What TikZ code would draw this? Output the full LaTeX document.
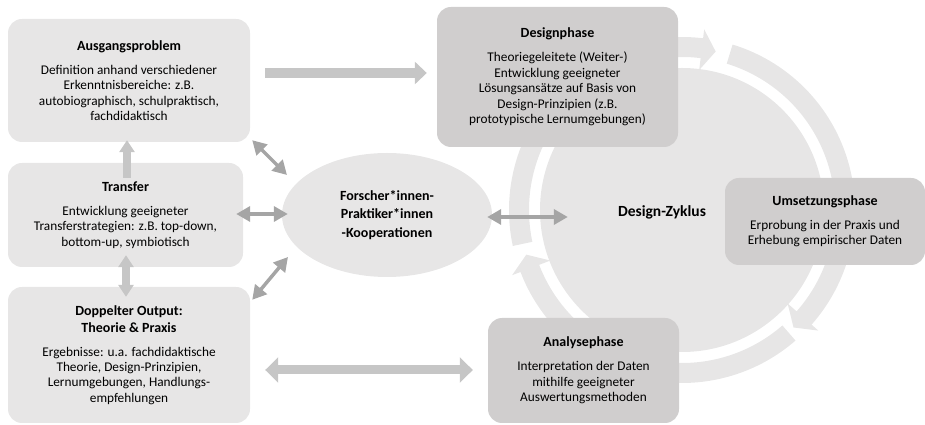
\documentclass[tikz,border=0pt]{standalone}
\usepackage{fontspec}
\setmainfont{Carlito}
\usetikzlibrary{arrows.meta,shapes.geometric}
\definecolor{boxlight}{HTML}{E7E6E6}
\definecolor{boxdark}{HTML}{D0CECE}
\definecolor{ringcol}{HTML}{E7E6E6}
\definecolor{thinarrow}{HTML}{A5A5A5}
\definecolor{blockarrow}{HTML}{C6C6C6}
\newcommand\ttl[1]{{\fontsize{14}{16.7}\selectfont\bfseries #1}}
\newcommand\ringarrow[2]{%
  \fill[ringcol, shift={(682,215)}] (#1:173) arc[start angle=#1, end angle={#2+5}, radius=173]
    -- ({#2+5}:182) -- (#2:162) -- ({#2+5}:141) -- ({#2+5}:153)
    arc[start angle={#2+5}, end angle=#1, radius=153] -- cycle;}
\begin{document}
\begin{tikzpicture}[x=1pt,y=1pt,
  lightbox/.style={fill=boxlight, rounded corners=14pt, align=center, inner sep=0pt,
    font=\fontsize{13.3}{15.4}\selectfont},
  darkbox/.style={fill=boxdark, rounded corners=14pt, align=center, inner sep=0pt,
    font=\fontsize{13.3}{15.4}\selectfont},
  blockarr/.style={draw=blockarrow, line width=9pt},
  thinarr/.style={draw=thinarrow, line width=3.5pt,
    {Triangle[width=15pt,length=14pt]}-{Triangle[width=15pt,length=14pt]}},
]
\useasboundingbox (0,0) rectangle (925,425);

% design cycle background
\node[circle, fill=ringcol, minimum size=284pt, inner sep=0pt] (Z) at (682,215) {};
\ringarrow{192}{78}
\ringarrow{73}{-46.5}
\ringarrow{-49}{-164}
\node[font=\fontsize{15.5}{18}\selectfont\bfseries] (ZT) at (662,213) {Design-Zyklus};

% left boxes
\node[lightbox, minimum width=242pt, minimum height=123pt] (A) at (129,344.5)
  {\ttl{Ausgangsproblem}\\[8.6pt]Definition anhand verschiedener\\Erkenntnisbereiche: z.B.\\autobiographisch, schulpraktisch,\\fachdidaktisch};
\node[lightbox, minimum width=235pt, minimum height=104pt] (T) at (125.5,210)
  {\ttl{Transfer}\\[8.6pt]Entwicklung geeigneter\\Transferstrategien: z.B. top-down,\\bottom-up, symbiotisch};
\node[lightbox, minimum width=242pt, minimum height=136pt] (D) at (129,70)
  {\ttl{Doppelter Output:}\\[1.3pt]\ttl{Theorie \& Praxis}\\[8.6pt]Ergebnisse: u.a. fachdidaktische\\Theorie, Design-Prinzipien,\\Lernumgebungen, Handlungs-\\empfehlungen};

% ellipse
\node[ellipse, fill=boxlight, minimum width=210pt, minimum height=124pt, inner sep=0pt,
  align=center, font=\fontsize{14}{18.3}\selectfont\bfseries] (E) at (387,210)
  {Forscher*innen-\\Praktiker*innen\\-Kooperationen};

% phase boxes
\node[darkbox, minimum width=241pt, minimum height=140pt] (DP) at (557.5,348)
  {\ttl{Designphase}\\[8.6pt]Theoriegeleitete (Weiter-)\\Entwicklung geeigneter\\Lösungsansätze auf Basis von\\Design-Prinzipien (z.B.\\prototypische Lernumgebungen)};
\node[darkbox, minimum width=200pt, minimum height=87pt] (U) at (825,203.5)
  {\ttl{Umsetzungsphase}\\[8.6pt]Erprobung in der Praxis und\\Erhebung empirischer Daten};
\node[darkbox, minimum width=191pt, minimum height=105pt] (AN) at (583.5,54.5)
  {\ttl{Analysephase}\\[8.6pt]Interpretation der Daten\\mithilfe geeigneter\\Auswertungsmethoden};

% block arrows
\draw[blockarr, line width=10pt, -{Triangle[width=22pt,length=12pt]}]
  ([shift={(15,7.5)}]A.east) -- ([shift={(-10,4)}]DP.west);
\draw[blockarr, line width=8pt, -{Triangle[width=15pt,length=12pt]}]
  ([shift={(1.5,-15)}]T.north) -- ([shift={(-2,2)}]A.south);
\draw[blockarr, line width=8pt, {Triangle[width=15pt,length=12pt]}-{Triangle[width=15pt,length=12pt]}]
  ([shift={(0.5,12)}]T.south) -- ([shift={(-3,-10)}]D.north);
\draw[blockarr, line width=9pt, {Triangle[width=25pt,length=13pt]}-{Triangle[width=25pt,length=13pt]}]
  ([shift={(15,-15)}]D.east) -- ([shift={(-15,0.5)}]AN.west);

% thin arrows
\draw[thinarr] ([shift={(2,2)}]A.south east) -- ([shift={(-100,40)}]E.center);
\draw[thinarr] ([shift={(-7,1)}]T.east) -- ([shift={(6,1)}]E.west);
\draw[thinarr] ([shift={(2,-13)}]D.north east) -- ([shift={(-99,-42)}]E.center);
\draw[thinarr] ([shift={(-5,-2)}]E.east) -- ([shift={(28,-7)}]Z.west);
\end{tikzpicture}
\end{document}
